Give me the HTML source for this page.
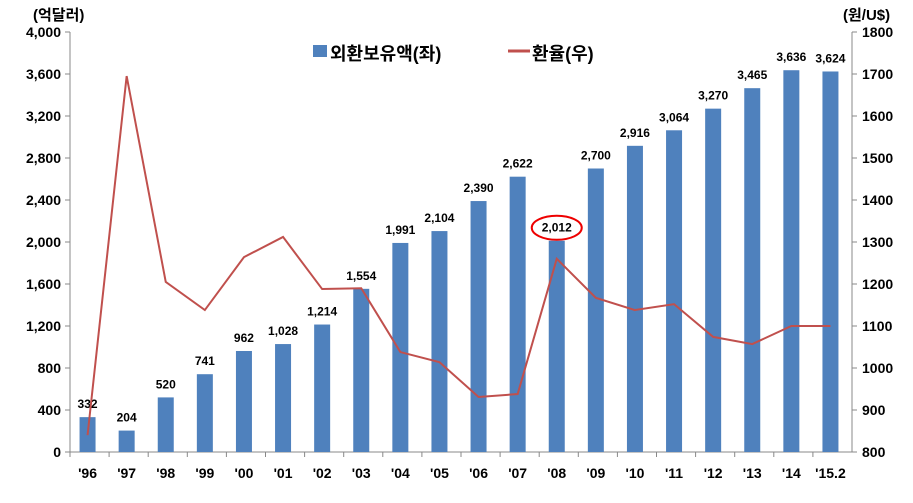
<!DOCTYPE html>
<html><head><meta charset="utf-8"><style>
body{margin:0;background:#fff;}
svg text{font-family:"Liberation Sans","Noto Sans CJK KR",sans-serif;font-weight:bold;fill:#000;}
</style></head><body>
<svg width="913" height="498" xmlns="http://www.w3.org/2000/svg">
<g id="g"></g>
</svg>
<script>
const categories=["'96","'97","'98","'99","'00","'01","'02","'03","'04","'05","'06","'07","'08","'09","'10","'11","'12","'13","'14","'15.2"];
const reserves=[332,204,520,741,962,1028,1214,1554,1991,2104,2390,2622,2012,2700,2916,3064,3270,3465,3636,3624];
const rates=[840,1695,1205,1138,1264,1312,1188,1190,1038,1014,931,938,1260,1167,1138,1152,1074,1057,1100,1100];
const leftTicks=[0,400,800,1200,1600,2000,2400,2800,3200,3600,4000];
const rightTicks=[800,900,1000,1100,1200,1300,1400,1500,1600,1700,1800];
</script>
<script>
const NS="http://www.w3.org/2000/svg";
const g=document.getElementById('g');
const X0=70,X1=852,Y0=452,Y1=32;
const n=categories.length;
const step=(X1-X0)/n;
const xc=i=>X0+step*(i+0.5)-2;
const yL=v=>Y0-(v/4000)*(Y0-Y1);
const yR=v=>Y0-((v-800)/1000)*(Y0-Y1);
function mk(t,a,txt){const e=document.createElementNS(NS,t);for(const k in a)e.setAttribute(k,a[k]);if(txt!=null)e.textContent=txt;g.appendChild(e);return e;}
// axes
let e=mk('line',{x1:X0,y1:Y1,x2:X0,y2:Y0,stroke:'#888'});


e=mk('line',{x1:X1,y1:Y1,x2:X1,y2:Y0,stroke:'#888'});


e=mk('line',{x1:X0,y1:Y0,x2:X1,y2:Y0,stroke:'#888'});


leftTicks.forEach(v=>{
  mk('line',{x1:X0-5,y1:yL(v),x2:X0,y2:yL(v),stroke:'#888'});
  e=mk('text',{x:X0-9,y:yL(v)+5,'text-anchor':'end','font-size':14},v.toLocaleString('en-US'));
  
  
});
rightTicks.forEach(v=>{
  mk('line',{x1:X1,y1:yR(v),x2:X1+5,y2:yR(v),stroke:'#888'});
  e=mk('text',{x:X1+10,y:yR(v)+5,'font-size':14},String(v));
  
  
});
categories.forEach((c,i)=>{
  mk('line',{x1:X0+step*i,y1:Y0,x2:X0+step*i,y2:Y0+5,stroke:'#888'});
  e=mk('text',{x:xc(i),y:Y0+26,'text-anchor':'middle','font-size':14},c);
  
  
});
reserves.forEach((v,i)=>{
  e=mk('rect',{x:xc(i)-8,y:yL(v),width:16,height:Y0-yL(v),fill:'#4f81bd'});
  
  
  e=mk('text',{x:xc(i),y:yL(v)-9,'text-anchor':'middle','font-size':12},v.toLocaleString('en-US'));
  
  
});
e=mk('ellipse',{cx:xc(12),cy:yL(2012)-13,rx:25,ry:12,fill:'none',stroke:'#e00',"stroke-width":2});


e=mk('polyline',{points:rates.map((v,i)=>xc(i)+','+yR(v)).join(' '),fill:'none',stroke:'#c0504d','stroke-width':2});


e=mk('text',{x:33,y:20,'font-size':15},'(억달러)');


e=mk('text',{x:843,y:20,'font-size':15},'(원/U$)');


e=mk('rect',{x:313,y:45,width:14,height:12,fill:'#4f81bd'});


e=mk('text',{x:330,y:60,'font-size':18},'외환보유액(좌)');


e=mk('line',{x1:508,y1:51,x2:530,y2:51,stroke:'#c0504d','stroke-width':3});


e=mk('text',{x:532,y:60,'font-size':18},'환율(우)');


</script>
</body></html>
